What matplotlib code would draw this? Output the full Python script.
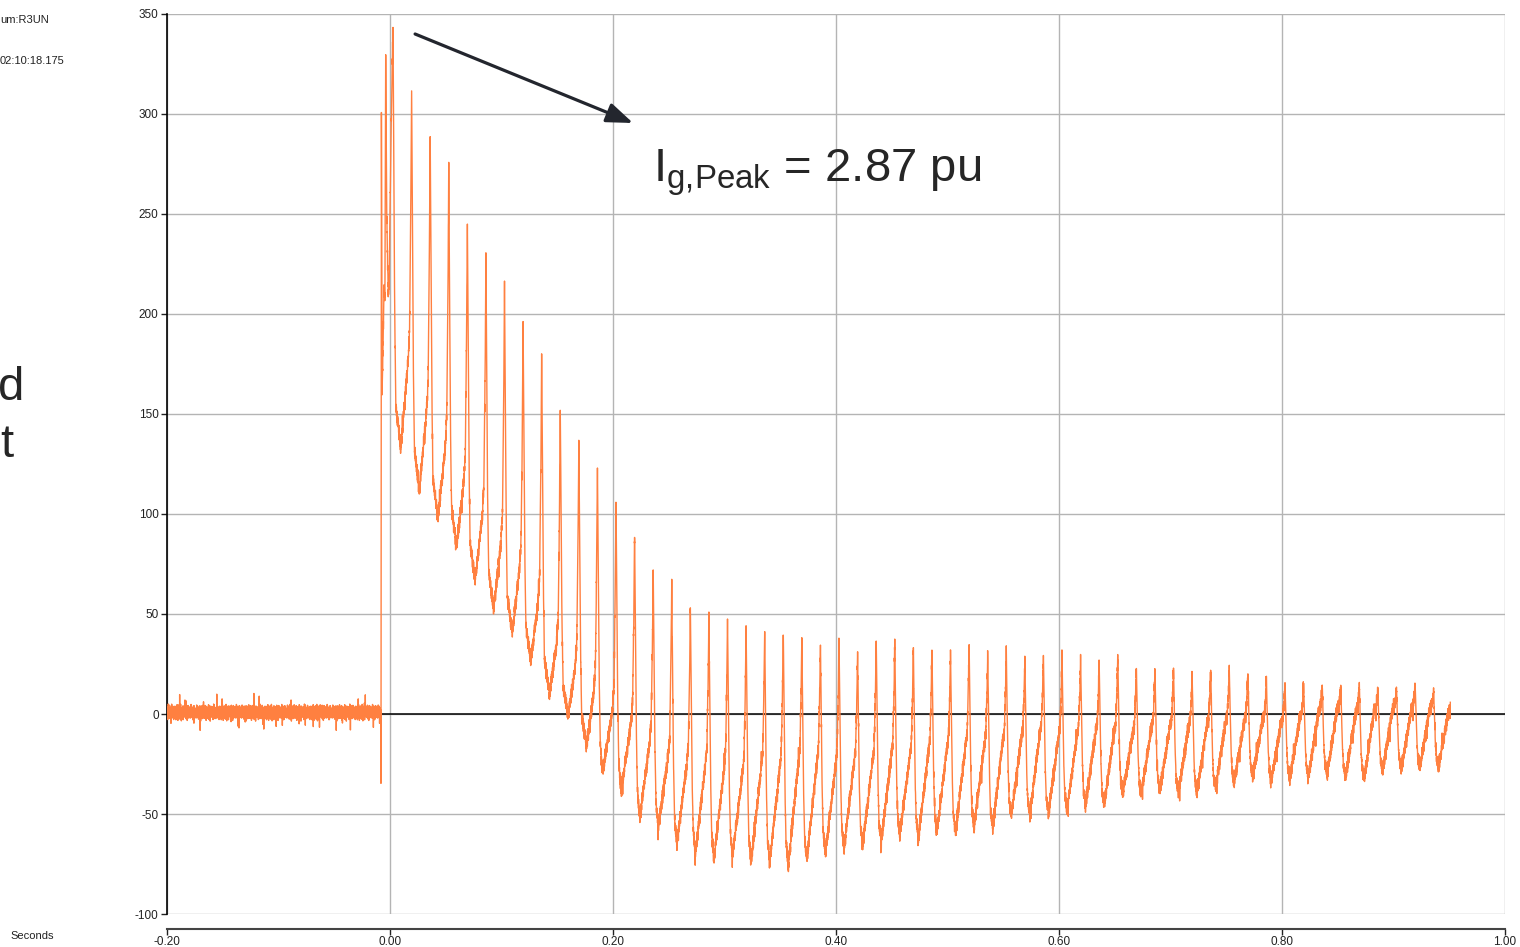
import numpy as np
import matplotlib.pyplot as plt
from matplotlib.ticker import FormatStrFormatter

plt.rcParams['font.family'] = ['Liberation Sans', 'DejaVu Sans']
plt.rcParams['axes.unicode_minus'] = False

# generator current record, 60 Hz system, fault just before t = 0
f_sys = 60.0
fs = 20000
t_start = -0.2
t_end = 0.951
t_first_peak = 0.0027

# per-cycle values: peak, trough after the peak, level just before the next peak
peak_vals = [344.5, 313.7, 290, 273, 247, 229, 213.5, 194, 179.5, 153,
             137, 124.5, 107, 88.7, 73.5, 66, 54, 51, 48, 44,
             42, 42, 38, 36, 38, 32, 38, 36, 34.5, 33,
             30.5, 35, 30, 31.5, 28, 29, 30, 27.5, 25.5, 30,
             24, 22, 22, 20, 22, 22, 21, 17, 16, 15,
             15, 14, 14, 12, 12, 15, 11]
trough_vals = [133, 112, 98, 84, 67, 53, 41, 27, 10, -1,
               -16, -29.5, -39, -52, -57, -65, -70, -73, -71, -74,
               -74, -76, -73, -70, -67, -66, -64, -60, -62, -59,
               -59, -56.5, -56.5, -50.5, -50.5, -49.5, -48, -45.5, -45.5, -40,
               -40, -38, -39, -39, -37, -34, -31, -33, -32, -31,
               -30, -31, -32, -28, -27, -26, -26]
shoulder_vals = [175, 151, 132, 115, 99, 85, 72, 55, 35, 23,
                 10.5, 1, -5, -15.5, -21.5, -26, -26, -29, -30, -28,
                 -28, -26, -25, -27, -25, -24, -22, -22, -20, -18,
                 -16.5, -17, -14.5, -13, -10, -12, -11, -9.5, -9.5, -10,
                 -7.5, -6.5, -7.5, -5.5, -4, -4, -3, -4, -2, 0.5,
                 2, 0.5, 2, 3, 2, 3, 1]

# first few milliseconds after fault inception
onset_t = [-0.00834, -0.00807, -0.00771, -0.00700, -0.00610, -0.00520, -0.00457,
           -0.00386, -0.00296, -0.00161, -0.00072, 0.00063, 0.00269]
onset_v = [2, -40, 301, 160, 190, 215, 205, 331, 250, 210, 215, 280, 344.5]

# measurement jitter samples
jitter = [0.31, -0.52, 0.78, -0.12, 0.05, -0.88, 0.44, 0.67, -0.35, 0.12,
          -0.71, 0.93, -0.24, 0.38, -0.59, 0.02, 0.81, -0.95, 0.27, -0.16,
          0.55, -0.42, 0.69, -0.77, 0.14, 0.36, -0.63, 0.48, -0.08, -0.29,
          0.86, -0.51, 0.21, -0.84, 0.61, -0.19, 0.09]

x_ticks = [-0.20, 0.00, 0.20, 0.40, 0.60, 0.80, 1.00]
y_ticks = [-100, -50, 0, 50, 100, 150, 200, 250, 300, 350]

# ---- build the trace ----
T = 1 / f_sys
t = np.arange(t_start, t_end, 1 / fs)
idx = np.arange(t.size)
jit = np.array(jitter)
noise = jit[(idx // 2) % len(jit)] + 0.6 * jit[(idx // 11) % len(jit)]
# occasional larger excursions
spk = jit[(idx * 7 // 3) % len(jit)]
spikes = np.where(np.abs(spk) > 0.9, spk, 0.0) * np.where(jit[(idx // 29) % len(jit)] > 0.5, 1.0, 0.0)

y = np.zeros_like(t)
pre = t < onset_t[0]
y[pre] = 0.8 + 3.0 * noise[pre] + 6 * spikes[pre]

on = (t >= onset_t[0]) & (t < t_first_peak)
y[on] = np.interp(t[on], onset_t, onset_v) + 3 * noise[on]

n_cyc = len(peak_vals)
for k in range(n_cyc):
    t0 = t_first_peak + k * T
    m = (t >= t0) & (t < t0 + T)
    ph = (t[m] - t0) / T
    P, Tr, S = peak_vals[k], trough_vals[k], shoulder_vals[k]
    Pn = peak_vals[k + 1] if k + 1 < n_cyc else peak_vals[k]
    d = P - Tr
    e = Pn - S
    tp = 0.42 if k <= 10 else 0.27
    knots = [0, 0.04, 0.09, 0.15, tp, 0.80, 0.89, 0.955, 1.0]
    vals = [P, Tr + 0.7 * d, Tr + 0.32 * d, Tr + 0.1 * d, Tr,
            S, S + 0.12 * e, S + 0.55 * e, Pn]
    amp = np.interp(ph, [0, 0.1, 0.2, 1.0], [1.0, 1.0, 3.0, 3.0])
    y[m] = np.interp(ph, knots, vals) + amp * noise[m] + 4 * spikes[m]

# ---- figure ----
fig = plt.figure(figsize=(15.2, 9.47), dpi=100)
ax = fig.add_axes([167 / 1520, 1 - 914 / 947, 1338 / 1520, 900 / 947])

ax.axhline(0, color='black', lw=1.1, zorder=2)
ax.plot(t, y, color='#FF8040', lw=1.0, zorder=3)

ax.set_xlim(-0.2, 1.0)
ax.set_ylim(-100, 350)
ax.set_xticks(x_ticks)
ax.set_yticks(y_ticks)
ax.xaxis.set_major_formatter(FormatStrFormatter('%.2f'))
ax.grid(True, color='#b4b4b4', lw=1.0, zorder=1)
ax.set_axisbelow(True)

for s in ['top', 'right']:
    ax.spines[s].set_visible(False)
ax.spines['left'].set_color('black')
ax.spines['left'].set_linewidth(1.2)
ax.spines['bottom'].set_position(('outward', 11))
ax.spines['bottom'].set_color('#444444')
ax.spines['bottom'].set_linewidth(1.5)
ax.tick_params(axis='y', length=4, width=1, pad=2, labelsize=8.5, colors='#222222')
ax.tick_params(axis='x', length=4, width=1, pad=1, labelsize=8.5, colors='#222222')

# peak annotation
ax.annotate('', xy=(0.218, 295.5), xytext=(0.0225, 340),
            arrowprops=dict(arrowstyle='-|>,head_length=0.8,head_width=0.3',
                            color='#23262e', lw=2.3, mutation_scale=20,
                            shrinkA=0, shrinkB=0))
fig.text(653 / 1520, 1 - 182 / 947, r'$\mathregular{I_{g{,}Peak}}$ = 2.87 pu',
         fontsize=34, color='#262626', va='baseline', ha='left')

# side labels
fig.text(0.0, 1 - 20 / 947, 'um:R3UN', fontsize=8, va='center', ha='left', color='#222222')
fig.text(0.0, 1 - 61 / 947, '02:10:18.175', fontsize=8, va='center', ha='left', color='#222222')
fig.text(-0.001, 1 - 388 / 947, 'd', fontsize=34, va='center', ha='left', color='#262626')
fig.text(0.0, 1 - 445 / 947, 't', fontsize=34, va='center', ha='left', color='#262626')
fig.text(10 / 1520, 1 - 936 / 947, 'Seconds', fontsize=8, va='center', ha='left', color='#222222')

fig.savefig('out.png', dpi=100)
